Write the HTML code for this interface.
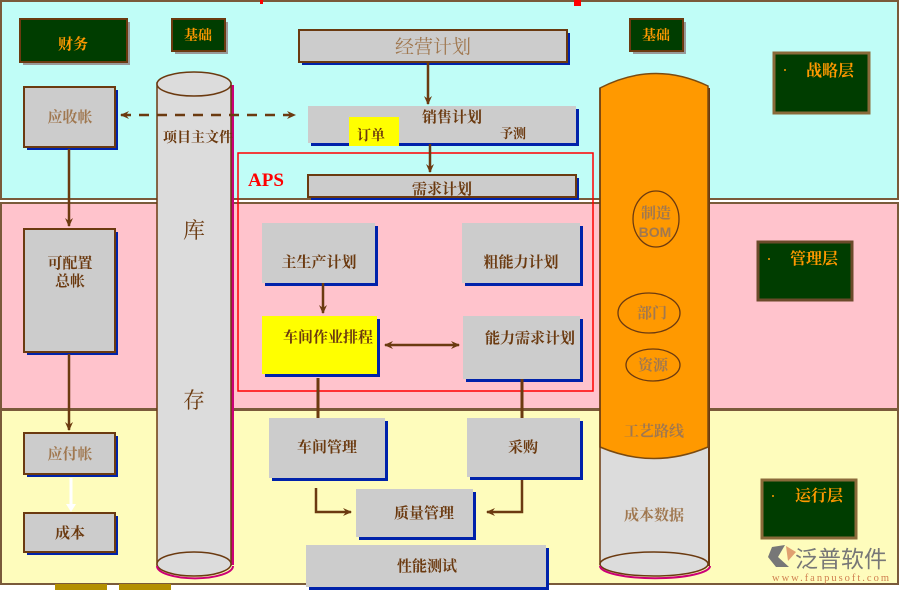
<!DOCTYPE html>
<html><head><meta charset="utf-8"><style>
body{margin:0;background:#fff;}
svg{display:block;font-family:"Liberation Serif","Noto Serif CJK SC","Noto Sans CJK SC",serif;}
</style></head><body>
<svg width="900" height="590" viewBox="0 0 900 590" xmlns="http://www.w3.org/2000/svg">
<defs>
<marker id="ah" markerWidth="10" markerHeight="10" refX="8" refY="5" orient="auto" markerUnits="userSpaceOnUse"><path d="M0,1 L9,5 L0,9 L3,5z" fill="#6b3a10"/></marker>
<marker id="ahs" markerWidth="10" markerHeight="10" refX="2" refY="5" orient="auto" markerUnits="userSpaceOnUse"><path d="M10,1 L1,5 L10,9 L7,5z" fill="#6b3a10"/></marker>
</defs>
<rect width="900" height="590" fill="#fff"/>
<rect x="1" y="1" width="897" height="198" fill="#c0fdf7" stroke="#7a5a3a" stroke-width="2"/>
<rect x="1" y="203" width="897" height="206" fill="#ffc3cc" stroke="#7a5a3a" stroke-width="2"/>
<rect x="1" y="410" width="897" height="174" fill="#fefcbc" stroke="#7a5a3a" stroke-width="2"/>
<rect x="260" y="0" width="3" height="4" fill="#f00"/><rect x="574" y="0" width="7" height="6" fill="#f00"/>
<rect x="55" y="584" width="52" height="6" fill="#b38f00"/><rect x="119" y="584" width="52" height="6" fill="#b38f00"/>

<g font-weight="bold" fill="#ff9900" text-anchor="middle">
<rect x="23" y="22" width="107" height="43" fill="#999"/><rect x="20" y="19" width="107" height="43" fill="#003d00" stroke="#6b3a10" stroke-width="2"/><text x="73" y="49" font-size="15">财务</text>
<rect x="175" y="22" width="53" height="32" fill="#999"/><rect x="172" y="19" width="53" height="32" fill="#003d00" stroke="#6b3a10" stroke-width="2"/><text x="198" y="40" font-size="14">基础</text>
<rect x="633" y="22" width="53" height="32" fill="#999"/><rect x="630" y="19" width="53" height="32" fill="#003d00" stroke="#6b3a10" stroke-width="2"/><text x="656" y="40" font-size="14">基础</text>
<rect x="774" y="53" width="95" height="60" fill="#003d00" stroke="#8a6a3a" stroke-width="3"/><text x="830" y="76" font-size="16">战略层</text><circle cx="785" cy="70" r="1" fill="#ff9900"/>
<rect x="758" y="242" width="94" height="58" fill="#003d00" stroke="#6b4a2a" stroke-width="3"/><text x="814" y="264" font-size="16">管理层</text><circle cx="769" cy="259" r="1" fill="#ff9900"/>
<rect x="762" y="480" width="94" height="58" fill="#003d00" stroke="#8a6a3a" stroke-width="3"/><text x="819" y="501" font-size="16">运行层</text><circle cx="773" cy="496" r="1" fill="#ff9900"/>
</g>

<g font-size="15" font-weight="bold" text-anchor="middle">
<rect x="27" y="90" width="91" height="60" fill="#0022aa"/><rect x="24" y="87" width="91" height="60" fill="#cccccc" stroke="#6b3a10" stroke-width="2"/><text x="70" y="122" fill="#a07850">应收帐</text>
<rect x="27" y="232" width="91" height="123" fill="#0022aa"/><rect x="24" y="229" width="91" height="123" fill="#cccccc" stroke="#6b3a10" stroke-width="2"/><text x="70" y="268" fill="#6b3a10">可配置</text><text x="70" y="286" fill="#6b3a10">总帐</text>
<rect x="27" y="436" width="91" height="41" fill="#0022aa"/><rect x="24" y="433" width="91" height="41" fill="#cccccc" stroke="#6b3a10" stroke-width="2"/><text x="70" y="459" fill="#a07850">应付帐</text>
<rect x="27" y="516" width="91" height="39" fill="#0022aa"/><rect x="24" y="513" width="91" height="39" fill="#cccccc" stroke="#6b3a10" stroke-width="2"/><text x="70" y="538" fill="#6b3a10">成本</text>
</g>
<line x1="69" y1="149" x2="69" y2="226" stroke="#6b3a10" stroke-width="2.5" marker-end="url(#ah)"/>
<line x1="69" y1="354" x2="69" y2="430" stroke="#6b3a10" stroke-width="2.5" marker-end="url(#ah)"/>
<line x1="71" y1="478" x2="71" y2="508" stroke="#fff" stroke-width="3"/><path d="M66,504 L71,512 L76,504z" fill="#fff"/>

<rect x="231" y="85" width="3" height="480" fill="#cc0077"/>
<rect x="157" y="83" width="74" height="482" fill="#dcdcdc" stroke="#6b3a10" stroke-width="1.5"/>
<ellipse cx="194" cy="564" rx="37" ry="12" fill="#dcdcdc" stroke="#6b3a10" stroke-width="1.5"/>
<path d="M157,566 A37,12 0 0 0 233,566" fill="none" stroke="#cc0077" stroke-width="2"/>
<ellipse cx="194" cy="84" rx="37" ry="12" fill="#dcdcdc" stroke="#6b3a10" stroke-width="1.5"/>
<g fill="#6b3a10" text-anchor="middle" font-weight="bold">
<text x="198" y="142" font-size="14">项目主文件</text>
<text x="194" y="238" font-size="22" font-weight="normal">库</text>
<text x="194" y="408" font-size="22" font-weight="normal">存</text>
</g>
<line x1="121" y1="115" x2="295" y2="115" stroke="#6b3a10" stroke-width="2.5" stroke-dasharray="10,8" marker-start="url(#ahs)" marker-end="url(#ah)"/>

<rect x="707" y="88" width="3" height="478" fill="#6b3a10"/>
<rect x="600" y="440" width="108" height="126" fill="#dcdcdc"/>
<ellipse cx="654" cy="564" rx="54" ry="12" fill="#dcdcdc" stroke="#6b3a10" stroke-width="1.5"/>
<path d="M600,566 A54,12 0 0 0 710,566" fill="none" stroke="#cc0077" stroke-width="2"/>
<path d="M600,88 Q654,60 708,86 L708,447 Q654,470 600,447z" fill="#ff9900" stroke="#7a4a10" stroke-width="1.5"/>
<line x1="600" y1="88" x2="600" y2="565" stroke="#6b3a10" stroke-width="1.5"/>
<ellipse cx="656" cy="219" rx="23" ry="28" fill="none" stroke="#6b3a10" stroke-width="1.3"/>
<ellipse cx="649" cy="313" rx="31" ry="20" fill="none" stroke="#6b3a10" stroke-width="1.3"/>
<ellipse cx="653" cy="365" rx="27" ry="16" fill="none" stroke="#6b3a10" stroke-width="1.3"/>
<g fill="#a07850" text-anchor="middle" font-weight="bold" font-size="15">
<text x="656" y="218">制造</text>
<text x="655" y="237" font-family="Liberation Sans,sans-serif" font-size="14">BOM</text>
<text x="652" y="318">部门</text>
<text x="653" y="370">资源</text>
<text x="654" y="436">工艺路线</text>
<text x="654" y="520">成本数据</text>
</g>

<rect x="238" y="153" width="355" height="238" fill="none" stroke="#ff0000" stroke-width="1.5"/>
<text x="248" y="186" fill="#ff0000" font-size="19" font-weight="bold">APS</text>

<g font-weight="bold" text-anchor="middle">
<rect x="302" y="33" width="268" height="32" fill="#0022aa"/><rect x="299" y="30" width="268" height="32" fill="#cccccc" stroke="#6b3a10" stroke-width="2"/><text x="433" y="53" fill="#a07850" font-size="19" font-weight="normal">经营计划</text>
<rect x="311" y="109" width="268" height="37" fill="#0022aa"/><rect x="308" y="106" width="268" height="37" fill="#cccccc"/><text x="452" y="122" fill="#6b3a10" font-size="15">销售计划</text>
<rect x="349" y="117" width="50" height="29" fill="#ffff00"/><text x="371" y="140" fill="#6b3a10" font-size="14">订单</text>
<text x="513" y="138" fill="#6b3a10" font-size="13">予测</text>
<rect x="311" y="178" width="268" height="22" fill="#0022aa"/><rect x="308" y="175" width="268" height="22" fill="#cccccc" stroke="#6b3a10" stroke-width="2"/><text x="442" y="194" fill="#6b3a10" font-size="15">需求计划</text>
</g>
<line x1="428" y1="63" x2="428" y2="104" stroke="#6b3a10" stroke-width="2.5" marker-end="url(#ah)"/>
<line x1="430" y1="144" x2="430" y2="172" stroke="#6b3a10" stroke-width="2.5" marker-end="url(#ah)"/>

<g font-weight="bold" text-anchor="middle" font-size="15" fill="#6b3a10">
<rect x="265" y="226" width="113" height="60" fill="#0022aa"/><rect x="262" y="223" width="113" height="60" fill="#cccccc"/><text x="319" y="267">主生产计划</text>
<rect x="465" y="226" width="118" height="60" fill="#0022aa"/><rect x="462" y="223" width="118" height="60" fill="#cccccc"/><text x="521" y="267">粗能力计划</text>
<rect x="265" y="319" width="115" height="58" fill="#0022aa"/><rect x="262" y="316" width="115" height="58" fill="#ffff00"/><text x="328" y="342">车间作业排程</text>
<rect x="466" y="319" width="117" height="63" fill="#0022aa"/><rect x="463" y="316" width="117" height="63" fill="#cccccc"/><text x="530" y="343">能力需求计划</text>
<rect x="272" y="421" width="116" height="60" fill="#0022aa"/><rect x="269" y="418" width="116" height="60" fill="#cccccc"/><text x="327" y="452">车间管理</text>
<rect x="470" y="421" width="113" height="59" fill="#0022aa"/><rect x="467" y="418" width="113" height="59" fill="#cccccc"/><text x="523" y="452">采购</text>
<rect x="359" y="492" width="117" height="48" fill="#0022aa"/><rect x="356" y="489" width="117" height="48" fill="#cccccc"/><text x="424" y="518">质量管理</text>
<rect x="309" y="548" width="240" height="42" fill="#0022aa"/><rect x="306" y="545" width="240" height="42" fill="#cccccc"/><text x="427" y="571">性能测试</text>
</g>
<line x1="323" y1="283" x2="323" y2="313" stroke="#6b3a10" stroke-width="2.5" marker-end="url(#ah)"/>
<line x1="385" y1="345" x2="459" y2="345" stroke="#6b3a10" stroke-width="2.5" marker-start="url(#ahs)" marker-end="url(#ah)"/>
<line x1="318" y1="378" x2="318" y2="418" stroke="#6b3a10" stroke-width="3"/>
<line x1="522" y1="379" x2="522" y2="418" stroke="#6b3a10" stroke-width="3"/>
<polyline points="316,488 316,512 351,512" fill="none" stroke="#6b3a10" stroke-width="2.5" marker-end="url(#ah)"/>
<polyline points="522,480 522,512 487,512" fill="none" stroke="#6b3a10" stroke-width="2.5" marker-end="url(#ah)"/>

<path d="M772,547 L785,545 L778,557 L789,567 L776,567 L768,557z" fill="#777"/>
<path d="M786,546 L796,552 L788,561z" fill="#e0a070"/>
<text x="795" y="567" font-family="'Noto Sans CJK SC',sans-serif" font-size="23" fill="#777">泛普软件</text>
<text x="772" y="581" font-size="10.5" fill="#d08050" font-family="Liberation Serif,serif" textLength="117">www.fanpusoft.com</text>
</svg>
</body></html>
